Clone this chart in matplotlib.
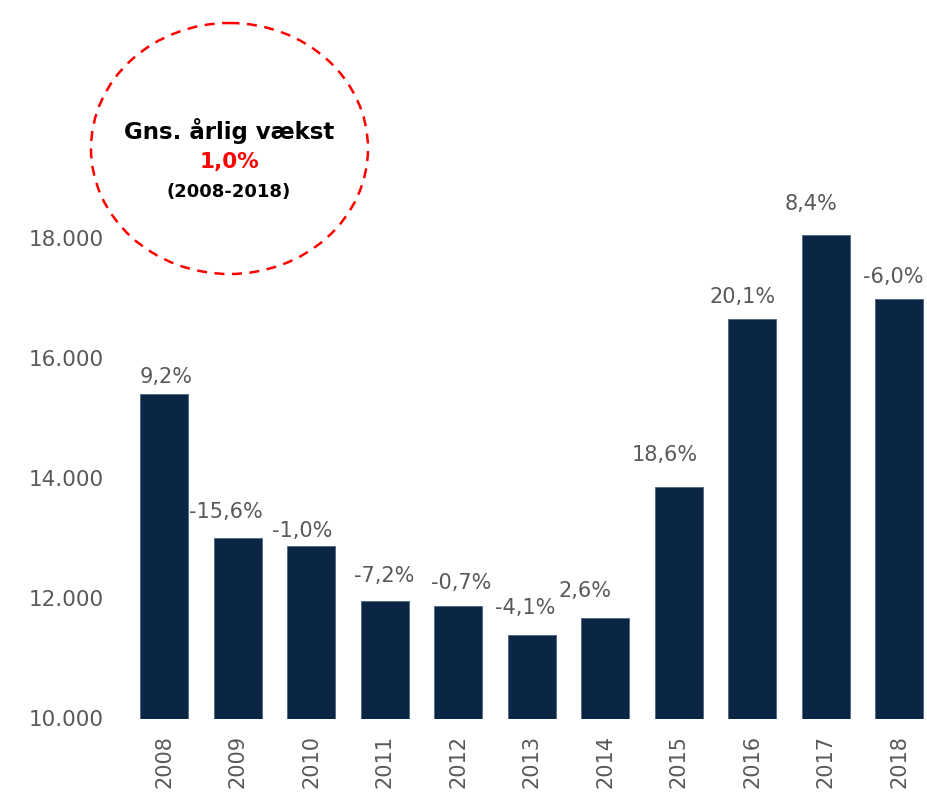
import matplotlib
matplotlib.use("Agg")
from matplotlib import pyplot as plt
from matplotlib.patches import Ellipse
import numpy as np

plt.rcParams['font.family'] = ['DejaVu Sans']

# yearly values and growth labels
years = ["2008", "2009", "2010", "2011", "2012", "2013", "2014", "2015", "2016", "2017", "2018"]
values = [15407, 13007, 12875, 11955, 11867, 11386, 11679, 13859, 16652, 18053, 16974]
growth = ["9,2%", "-15,6%", "-1,0%", "-7,2%", "-0,7%", "-4,1%", "2,6%", "18,6%", "20,1%", "8,4%", "-6,0%"]
yticks = [10000, 12000, 14000, 16000, 18000]
ytick_labels = ["10.000", "12.000", "14.000", "16.000", "18.000"]

# hand placed label nudges (pixels) so the labels don't crowd each other
label_dx = [2.5, -11.5, -8.5, -0.5, 3, -6.5, -20.5, -14, -10, -14.5, -6.5]
label_dy = [10.5, 20, 8.5, 19, 17.5, 21, 20.5, 26, 15.5, 25, 16.5]

navy = "#0b2645"
grey = "#595959"
red = "#ff0000"

W, H = 928, 798
fig = plt.figure(figsize=(W / 100, H / 100), dpi=100)
ax = fig.add_axes([120 / W, (H - 718.5) / H, 808 / W, 601 / H])

x = np.arange(len(years))
ax.bar(x, values, width=0.653, color=navy, edgecolor="#4d6685", linewidth=0.6)
ax.set_ylim(10000, 20000)
ax.set_xlim(-0.6, 10.39)

for xi, v, g, dx, dy in zip(x, values, growth, label_dx, label_dy):
    ax.annotate(g, (xi, v), xytext=(dx, dy), textcoords="offset pixels",
                ha="center", va="baseline", fontsize=15, color=grey)

ax.set_yticks(yticks)
ax.set_yticklabels(ytick_labels, fontsize=15.5)
ax.set_xticks(x)
ax.set_xticklabels(years, rotation=90, fontsize=15)
ax.tick_params(axis="both", length=0, labelcolor=grey)
ax.tick_params(axis="y", pad=12)
ax.tick_params(axis="x", pad=12)
for s in ax.spines.values():
    s.set_visible(False)

# overlay in pixel coordinates for the dashed circle callout
ov = fig.add_axes([0, 0, 1, 1], facecolor="none")
ov.set_xlim(0, W)
ov.set_ylim(H, 0)
ov.axis("off")
ov.add_patch(Ellipse((229.5, 148.5), 277, 251, fill=False, edgecolor=red,
                     linewidth=1.8, linestyle=(0, (4, 3))))
ov.text(229, 131, "Gns. årlig vækst", ha="center", va="center",
        fontsize=16.5, fontweight="bold", color="black")
ov.text(229, 162, "1,0%", ha="center", va="center",
        fontsize=15.5, fontweight="bold", color=red)
ov.text(229, 192, "(2008-2018)", ha="center", va="center",
        fontsize=13, fontweight="bold", color="black")

fig.savefig("out.png", dpi=100)
